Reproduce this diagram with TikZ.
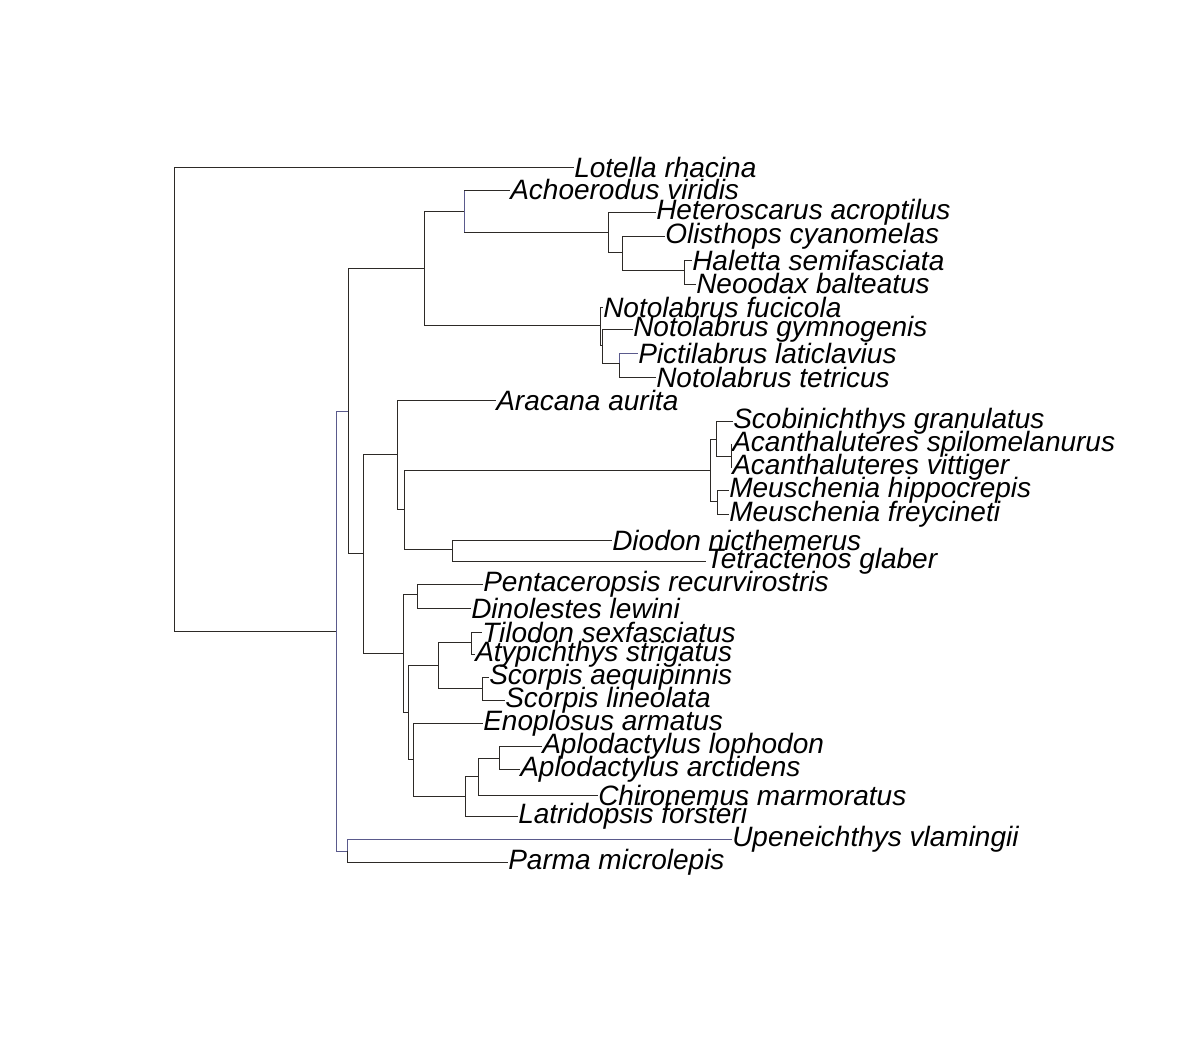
\documentclass[tikz,border=0pt]{standalone}
\usepackage{fontspec}
\setmainfont{Liberation Sans}
\begin{document}
\begin{tikzpicture}[x=0.75pt,y=-0.75pt,
  br/.style={line width=0.7pt,draw=black!90!olive},
  bb/.style={line width=0.7pt,draw={rgb,255:red,90;green,90;blue,140}},
  tip/.style={anchor=west,inner sep=0pt,font=\fontsize{21}{25}\selectfont\itshape}]
\useasboundingbox (0,0) rectangle (1200,1062);
% tips
\node[tip] (t1) at (574,167) {Lotella rhacina};
\node[tip] (t2) at (510,190) {Achoerodus viridis};
\node[tip] (t3) at (656,212) {Heteroscarus acroptilus};
\node[tip] (t4) at (665,236) {Olisthops cyanomelas};
\node[tip] (t5) at (692,260) {Haletta semifasciata};
\node[tip] (t6) at (696,284) {Neoodax balteatus};
\node[tip] (t7) at (603,307) {Notolabrus fucicola};
\node[tip] (t8) at (633,329) {Notolabrus gymnogenis};
\node[tip] (t9) at (638,353) {Pictilabrus laticlavius};
\node[tip] (t10) at (656,377) {Notolabrus tetricus};
\node[tip] (t11) at (496,400) {Aracana aurita};
\node[tip] (t12) at (733,421) {Scobinichthys granulatus};
\node[tip] (t13) at (732,444) {Acanthaluteres spilomelanurus};
\node[tip] (t14) at (732,467) {Acanthaluteres vittiger};
\node[tip] (t15) at (729,490) {Meuschenia hippocrepis};
\node[tip] (t16) at (729,514) {Meuschenia freycineti};
\node[tip] (t17) at (612,540) {Diodon nicthemerus};
\node[tip] (t18) at (706,561) {Tetractenos glaber};
\node[tip] (t19) at (483,584) {Pentaceropsis recurvirostris};
\node[tip] (t20) at (471,608) {Dinolestes lewini};
\node[tip] (t21) at (482,632) {Tilodon sexfasciatus};
\node[tip] (t22) at (475,654) {Atypichthys strigatus};
\node[tip] (t23) at (489,677) {Scorpis aequipinnis};
\node[tip] (t24) at (505,700) {Scorpis lineolata};
\node[tip] (t25) at (483,723) {Enoplosus armatus};
\node[tip] (t26) at (542,746) {Aplodactylus lophodon};
\node[tip] (t27) at (520,769) {Aplodactylus arctidens};
\node[tip] (t28) at (598,795) {Chironemus marmoratus};
\node[tip] (t29) at (518,816) {Latridopsis forsteri};
\node[tip] (t30) at (732,839) {Upeneichthys vlamingii};
\node[tip] (t31) at (508,862) {Parma microlepis};
% internal nodes
\coordinate (root) at (174,631);
\coordinate (n336) at (336,631);
\coordinate (n348) at (348,411);
\coordinate (wr) at (424,268);
\coordinate (ach) at (464,211);
\coordinate (her) at (608,232);
\coordinate (oli) at (622,252);
\coordinate (hal) at (684,270);
\coordinate (not) at (600,325);
\coordinate (n602) at (602,345);
\coordinate (pic) at (619,363);
\coordinate (n363) at (363,553);
\coordinate (n397) at (397,454);
\coordinate (n404) at (404,509);
\coordinate (n710) at (710,470);
\coordinate (n716) at (716,439);
\coordinate (n731) at (731,456);
\coordinate (n717) at (717,501);
\coordinate (n452) at (452,549);
\coordinate (n403) at (403,653);
\coordinate (n417) at (417,594);
\coordinate (n408) at (408,712);
\coordinate (n438) at (438,665);
\coordinate (n471) at (471,642);
\coordinate (n482) at (482,688);
\coordinate (n413) at (413,759);
\coordinate (n465) at (465,796);
\coordinate (n478) at (478,776);
\coordinate (n499) at (499,758);
\coordinate (n347) at (347,851);
% branches
\draw[br] (root) |- (t1.west);
\draw[br] (root) -- (n336);
\draw[bb] (n336) |- (n348);
\draw[bb] (n336) |- (n347);
\draw[br] (n348) |- (wr);
\draw[br] (n348) |- (n363);
\draw[br] (wr) |- (ach);
\draw[br] (wr) |- (not);
\draw[bb] (ach) -- (ach |- t2.west);
\draw[bb] (ach) -- (ach |- her);
\draw[br] (ach |- t2.west) -- (t2.west);
\draw[br] (ach |- her) -- (her);
\draw[br] (her) |- (t3.west);
\draw[br] (her) |- (oli);
\draw[br] (oli) |- (t4.west);
\draw[br] (oli) |- (hal);
\draw[br] (hal) |- (t5.west);
\draw[br] (hal) |- (t6.west);
\draw[br] (not) |- (t7.west);
\draw[br] (not) |- (n602);
\draw[br] (n602) |- (t8.west);
\draw[br] (n602) |- (pic);
\draw[bb] (pic) |- (t9.west);
\draw[br] (pic) |- (t10.west);
\draw[br] (n363) |- (n397);
\draw[br] (n363) |- (n403);
\draw[br] (n397) |- (t11.west);
\draw[br] (n397) |- (n404);
\draw[br] (n404) |- (n710);
\draw[br] (n404) |- (n452);
\draw[br] (n710) |- (n716);
\draw[br] (n710) |- (n717);
\draw[br] (n716) |- (t12.west);
\draw[br] (n716) |- (n731);
\draw[br] (n731) |- (t13.west);
\draw[br] (n731) |- (t14.west);
\draw[br] (n717) |- (t15.west);
\draw[br] (n717) |- (t16.west);
\draw[br] (n452) |- (t17.west);
\draw[br] (n452) |- (t18.west);
\draw[br] (n403) |- (n417);
\draw[br] (n403) |- (n408);
\draw[br] (n417) |- (t19.west);
\draw[br] (n417) |- (t20.west);
\draw[br] (n408) |- (n438);
\draw[br] (n408) |- (n413);
\draw[br] (n438) |- (n471);
\draw[br] (n438) |- (n482);
\draw[br] (n471) |- (t21.west);
\draw[br] (n471) |- (t22.west);
\draw[br] (n482) |- (t23.west);
\draw[br] (n482) |- (t24.west);
\draw[br] (n413) |- (t25.west);
\draw[br] (n413) |- (n465);
\draw[br] (n465) |- (n478);
\draw[br] (n465) |- (t29.west);
\draw[br] (n478) |- (n499);
\draw[br] (n478) |- (t28.west);
\draw[br] (n499) |- (t26.west);
\draw[br] (n499) |- (t27.west);
\draw[bb] (n347) |- (t30.west);
\draw[br] (n347) |- (t31.west);
\end{tikzpicture}
\end{document}
